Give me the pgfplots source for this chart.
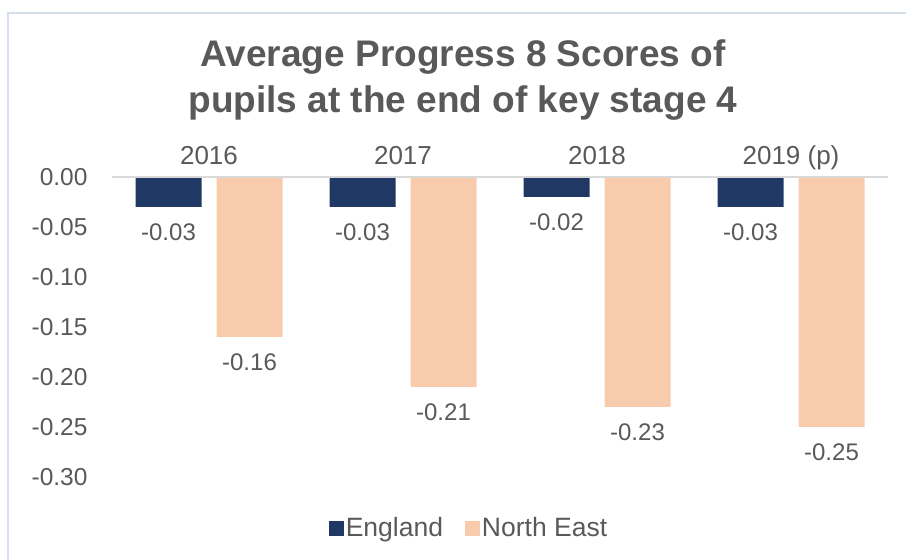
\documentclass[border=0pt]{standalone}
\usepackage{pgfplots}
\pgfplotsset{compat=1.18}
\usepackage{fontspec}
\setmainfont{Liberation Sans}
\definecolor{eng}{HTML}{203864}
\definecolor{ne}{HTML}{F8CBAD}
\definecolor{txt}{HTML}{595959}
\definecolor{frm}{HTML}{D6DFEC}
\definecolor{zl}{HTML}{D9D9D9}
\begin{document}
\begin{tikzpicture}[x=1bp,y=1bp]
\useasboundingbox (0,0) rectangle (906,560);
\draw[frm, line width=1.5bp] (8,-20) -- (8,547) -- (930,547);
\node[txt, font=\fontsize{37bp}{46bp}\selectfont\bfseries, align=center] at (463,480) {Average Progress 8 Scores of\\pupils at the end of key stage 4};
\begin{axis}[
 at={(112bp,83bp)}, anchor=south west,
 scale only axis, width=776bp, height=300bp,
 ymin=-0.30, ymax=0, xmin=-0.5, xmax=3.5,
 ybar=15bp, bar width=66bp,
 xtick={0,1,2,3}, xticklabels={2016,2017,2018,2019 (p)},
 xticklabel pos=upper,
 ytick={-0.30,-0.25,-0.20,-0.15,-0.10,-0.05,0},
 axis line style={draw=none},
 major tick length=0pt,
 /pgf/number format/fixed,
 /pgf/number format/fixed zerofill,
 /pgf/number format/precision=2,
 /pgf/number format/assume math mode=true,
 tick label style={text=txt},
 yticklabel style={font=\fontsize{24.5bp}{28bp}\selectfont, xshift=-21bp},
 xticklabel style={font=\fontsize{26bp}{30bp}\selectfont, text height=19bp, text depth=6bp, yshift=3bp},
 nodes near coords,
 nodes near coords style={font=\fontsize{24bp}{28bp}\selectfont, text=txt},
 every node near coord/.append style={yshift=-13bp},
 legend columns=2,
 legend style={draw=none, fill=none, at={(0.46,-0.17)}, anchor=center,
   font=\fontsize{26.5bp}{30bp}\selectfont, text=txt,
   /tikz/every even column/.append style={column sep=20bp},
   cells={inner xsep=3.5bp}},
 legend image code/.code={\fill[#1] (0bp,-8bp) rectangle (15bp,7bp);},
]
\addplot[fill=eng, draw=none] coordinates {(0,-0.03) (1,-0.03) (2,-0.02) (3,-0.03)};
\addplot[fill=ne, draw=none] coordinates {(0,-0.16) (1,-0.21) (2,-0.23) (3,-0.25)};
\legend{England, North East}
\draw[zl, line width=2bp] (axis cs:-0.5,0) -- (axis cs:3.5,0);
\end{axis}
\end{tikzpicture}
\end{document}
